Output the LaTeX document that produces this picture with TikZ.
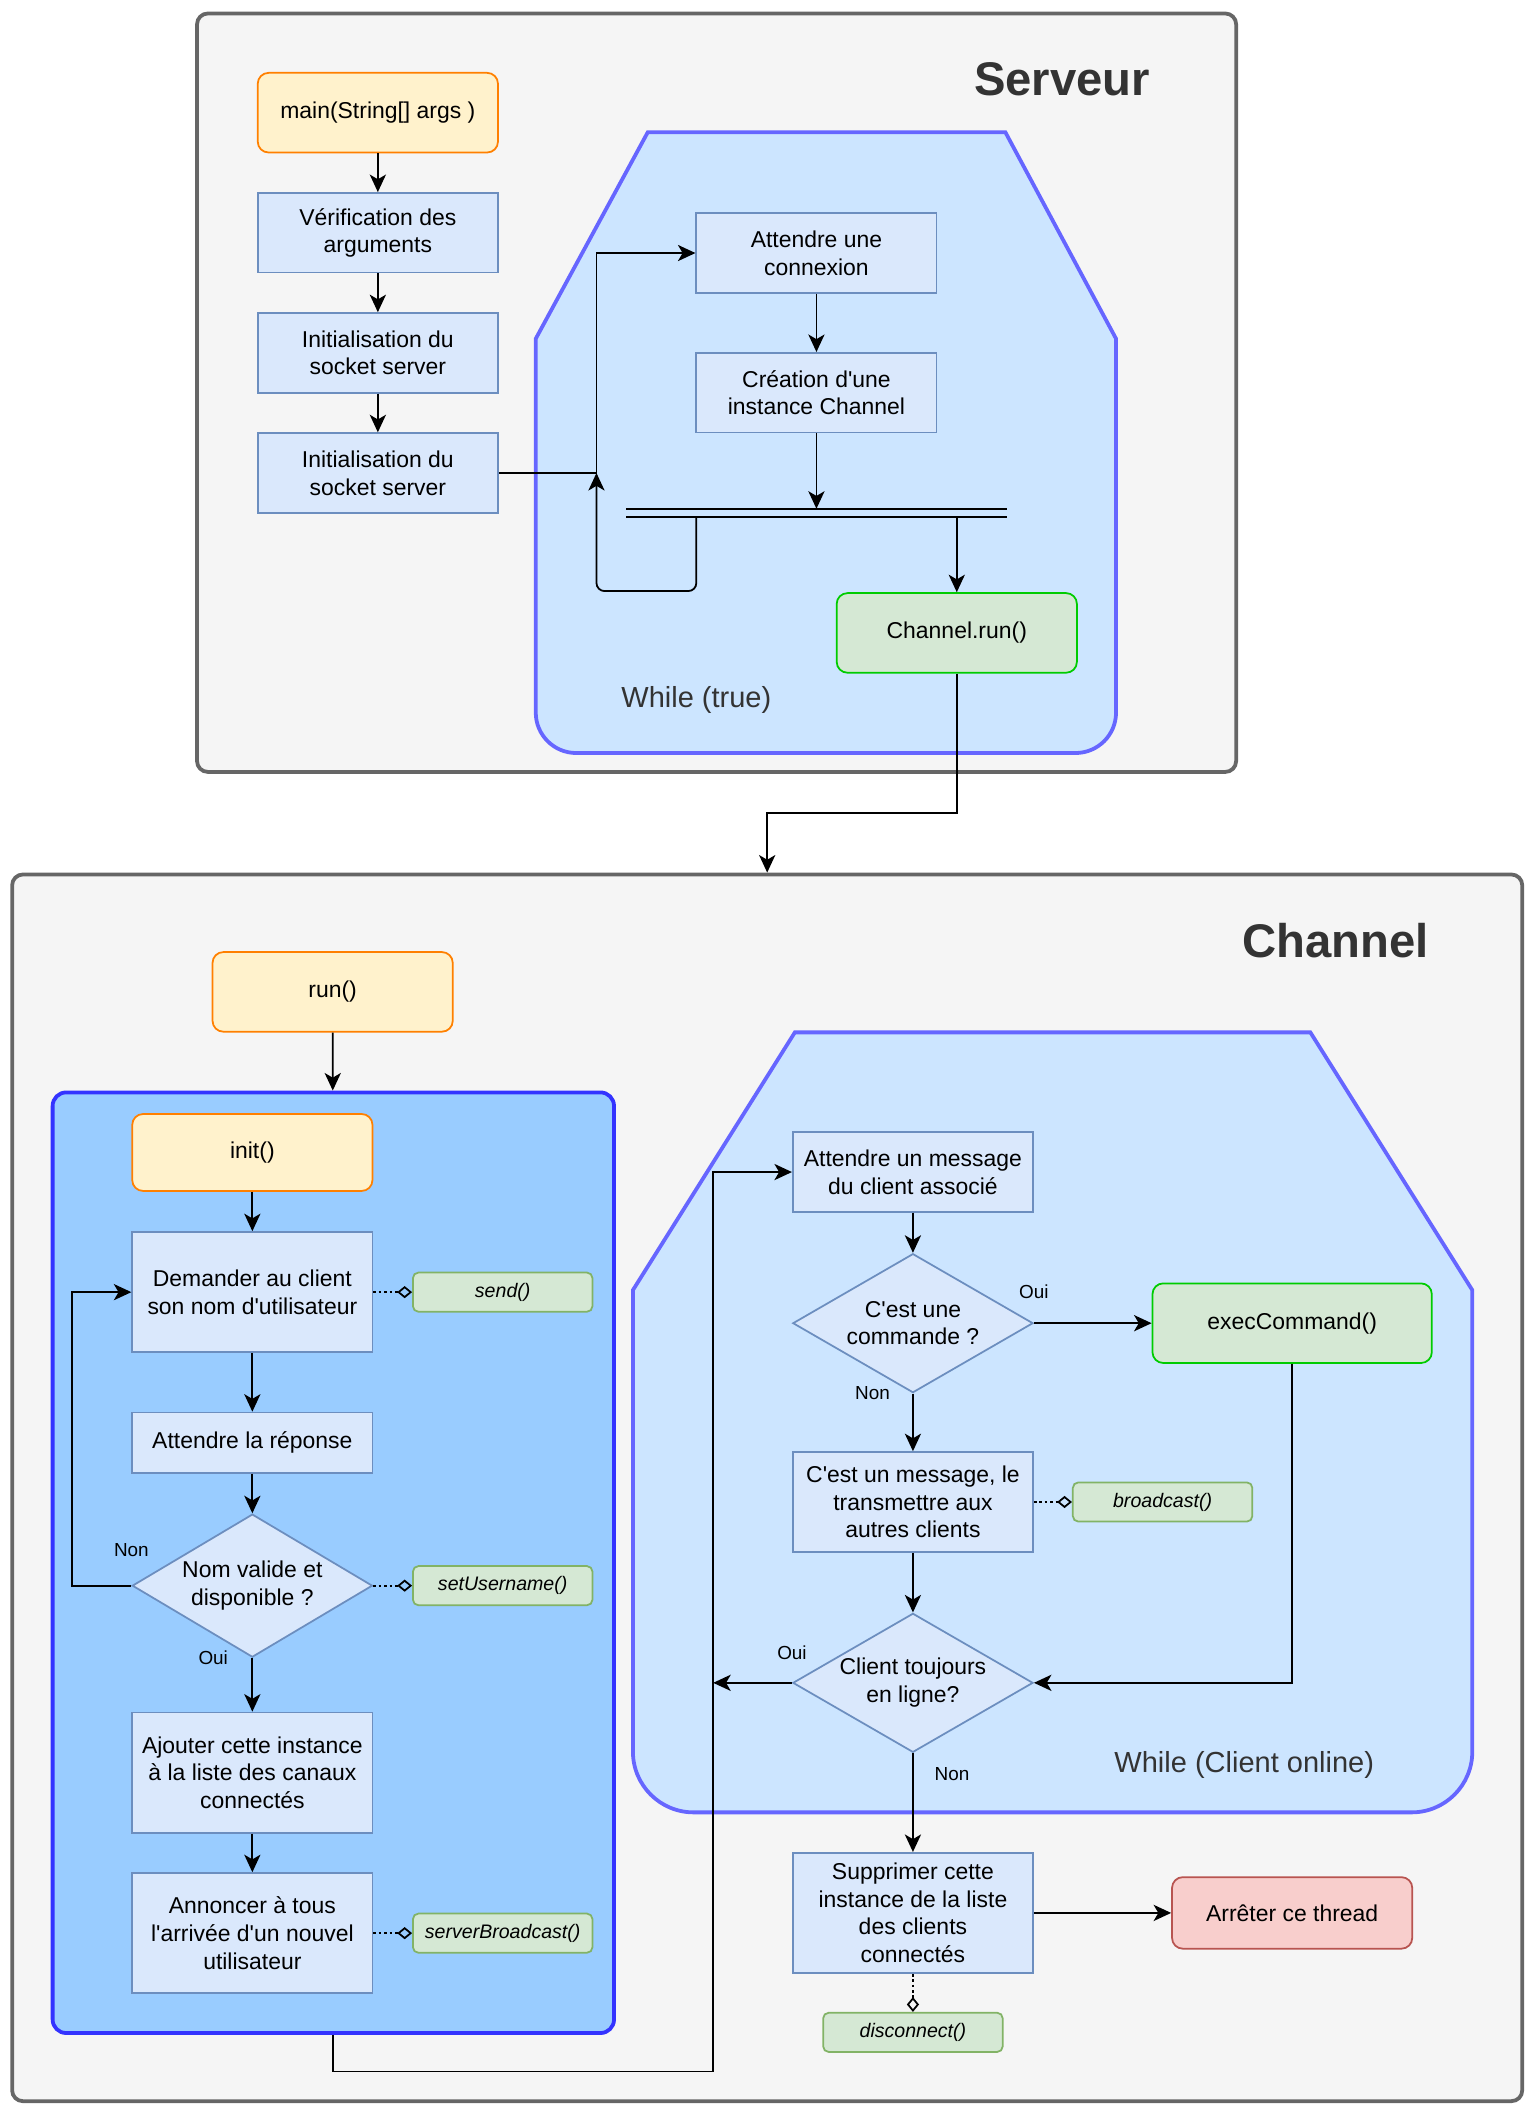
\documentclass[tikz,border=0pt]{standalone}
\usepackage{fontspec}
\setmainfont{Liberation Sans}
\usetikzlibrary{arrows.meta,shapes.geometric}

\definecolor{boxbg}{HTML}{F5F5F5}
\definecolor{boxline}{HTML}{666666}
\definecolor{titlegray}{HTML}{333333}
\definecolor{procfill}{HTML}{DAE8FC}
\definecolor{procline}{HTML}{6C8EBF}
\definecolor{startfill}{HTML}{FFF2CC}
\definecolor{startline}{HTML}{FF8000}
\definecolor{callfill}{HTML}{D5E8D4}
\definecolor{callline}{HTML}{82B366}
\definecolor{runline}{HTML}{00CC00}
\definecolor{stopfill}{HTML}{F8CECC}
\definecolor{stopline}{HTML}{B85450}
\definecolor{loopfill}{HTML}{CCE5FF}
\definecolor{loopline}{HTML}{6666FF}
\definecolor{initfill}{HTML}{99CCFF}
\definecolor{initline}{HTML}{3333FF}

\newcommand{\q}{\textquotesingle}

\begin{document}
\begin{tikzpicture}[x=1pt, y=-1pt,
    font=\fontsize{17}{20.5}\selectfont,
    container/.style={draw=boxline, fill=boxbg, line width=2.8pt, rounded corners=8pt, inner sep=0pt},
    title/.style={font=\fontsize{35}{40}\selectfont\bfseries, text=titlegray},
    looplabel/.style={font=\fontsize{21.5}{26}\selectfont, text=titlegray},
    whileshape/.style={draw=loopline, fill=loopfill, line width=2.8pt},
    proc/.style={draw=procline, fill=procfill, line width=1.3pt, minimum width=178pt, minimum height=59pt, align=center, inner sep=1pt},
    start/.style={proc, draw=startline, fill=startfill, rounded corners=8pt},
    runbox/.style={proc, draw=runline, fill=callfill, rounded corners=8pt},
    stopbox/.style={proc, draw=stopline, fill=stopfill, rounded corners=8pt, minimum height=53pt},
    call/.style={draw=callline, fill=callfill, line width=1.3pt, rounded corners=4pt, minimum width=133pt, minimum height=29pt, inner sep=0pt, font=\fontsize{14.5}{17}\selectfont\itshape},
    test/.style={diamond, draw=procline, fill=procfill, line width=1.3pt, aspect=1.7, inner xsep=-25pt, inner ysep=-15pt, minimum width=178pt, minimum height=103pt, align=center},
    lbl/.style={font=\fontsize{14}{17}\selectfont, inner sep=0pt},
    conn/.style={line width=1.3pt},
    flow/.style={conn, -{Stealth[length=13pt, width=12pt, inset=3.5pt]}},
    uses/.style={conn, dash pattern=on 2pt off 2pt, -{Diamond[open, length=11pt, width=9pt]}},
  ]
  \useasboundingbox (0,0) rectangle (1138,1568);

  % outer boxes
  \node[container, minimum width=770pt, minimum height=562pt] (serveur) at (531,291) {};
  \node[container, minimum width=1119pt, minimum height=909pt] (channel) at (568.5,1102.5) {};
  \node[title] (serveurtitle) at (787,59) {Serveur};
  \node[title] (channeltitle) at (989.5,697) {Channel};

  % Serveur
  \draw[whileshape] (480,98) -- (745,98) -- (827,251) -- (827,400) [rounded corners=30pt] -- (827,558) -- (397,558) -- (397,400) [sharp corners] -- (397,251) -- cycle;
  \node[looplabel] (whiletrue) at (516,519) {While (true)};

  \node[start] (main) at (280,83.5) {main(String[] args )};
  \node[proc] (verif) at (280,172.5) {Vérification des\\arguments};
  \node[proc] (sock1) at (280,261.5) {Initialisation du\\socket server};
  \node[proc] (sock2) at (280,350.5) {Initialisation du\\socket server};
  \node[proc] (wait) at (605,187.5) {Attendre une\\connexion};
  \node[proc] (create) at (605,291) {Création d\q une\\instance Channel};
  \node[runbox] (chrun) at (709,469) {Channel.run()};

  \draw[conn] (464,377) -- (746,377) (464,383) -- (746,383);
  \coordinate (barin) at (605,377);
  \coordinate (barback) at (516,383);
  \coordinate (barout) at (709,383);
  \coordinate (join) at (442,350.5);

  \draw[flow] (main) -- (verif);
  \draw[flow] (verif) -- (sock1);
  \draw[flow] (sock1) -- (sock2);
  \draw[flow] (sock2) -- (join) |- (wait);
  \draw[flow] (wait) -- (create);
  \draw[flow] (create) -- (barin);
  \draw[flow, rounded corners=6pt] (barback) -- (516,438) -- (442,438) -- (join);
  \draw[flow] (barout) -- (chrun);
  \draw[flow] (chrun.south) -- ++(0,103.5) -| (channel.north);

  % Channel, init
  \node[start] (run) at (246.5,735) {run()};
  \node[draw=initline, fill=initfill, line width=2.8pt, rounded corners=10pt, minimum width=416pt, minimum height=697pt] (initblock) at (247,1158) {};
  \node[start, minimum height=57pt] (init) at (187,854) {init()};
  \node[proc, minimum height=89pt] (askname) at (187,957.5) {Demander au client\\son nom d\q utilisateur};
  \node[proc, minimum height=44.5pt] (waitname) at (187,1069) {Attendre la réponse};
  \node[test, minimum height=106pt] (valid) at (187,1175) {Nom valide et\\disponible ?};
  \node[proc, minimum height=89pt] (addlist) at (187,1313.5) {Ajouter cette instance\\à la liste des canaux\\connectés};
  \node[proc, minimum height=89pt] (announce) at (187,1432.5) {Annoncer à tous\\l\q arrivée d\q un nouvel\\utilisateur};
  \node[call] (send) at (372.5,957.5) {send()};
  \node[call] (setname) at (372.5,1175) {setUsername()};
  \node[call] (srvcast) at (372.5,1432.5) {serverBroadcast()};

  \draw[flow] (run) -- (initblock);
  \draw[flow] (init) -- (askname);
  \draw[flow] (askname) -- (waitname);
  \draw[flow] (waitname) -- (valid);
  \draw[flow] (valid.west) -- node[lbl, at start, yshift=26pt] {Non} ++(-44,0) |- (askname.west);
  \draw[flow] (valid) -- node[lbl, at start, xshift=-29pt] {Oui} (addlist);
  \draw[flow] (addlist) -- (announce);
  \draw[uses] (askname) -- (send);
  \draw[uses] (valid) -- (setname);
  \draw[uses] (announce) -- (srvcast);

  % Channel, while
  \draw[whileshape] (589,765) -- (971,765) -- (1091,956) -- (1091,1150) [rounded corners=45pt] -- (1091,1343) -- (469,1343) -- (469,1150) [sharp corners] -- (469,956) -- cycle;
  \node[looplabel] (whileonline) at (922,1308) {While (Client online)};

  \node[proc] (waitmsg) at (676.5,868.5) {Attendre un message\\du client associé};
  \node[test] (iscmd) at (676.5,980.5) {C\q est une\\commande ?};
  \node[runbox, minimum width=207pt] (exec) at (957.5,980.5) {execCommand()};
  \node[proc, minimum height=74pt] (relay) at (676.5,1113) {C\q est un message, le\\transmettre aux\\autres clients};
  \node[call] (bcast) at (861.5,1113) {broadcast()};
  \node[test] (online) at (676.5,1247) {Client toujours\\en ligne?};
  \node[proc, minimum height=89pt] (remove) at (676.5,1417.5) {Supprimer cette\\instance de la liste\\des clients\\connectés};
  \node[stopbox] (stop) at (957.5,1417.5) {Arrêter ce thread};
  \node[call] (disc) at (676.5,1506) {disconnect()};

  \coordinate (backbottom) at (528.5,1535);
  \coordinate (backright) at (528.5,1247);
  \draw[flow] (initblock) |- (backbottom) |- (waitmsg);
  \draw[flow] (waitmsg) -- (iscmd);
  \draw[flow] (iscmd) -- node[lbl, at start, yshift=23pt] {Oui} (exec);
  \draw[flow] (iscmd) -- node[lbl, at start, xshift=-30pt] {Non} (relay);
  \draw[uses] (relay) -- (bcast);
  \draw[flow] (relay) -- (online);
  \draw[flow] (exec) |- (online);
  \draw[flow] (online) -- node[lbl, at start, yshift=22pt] {Oui} (backright);
  \draw[flow] (online) -- node[lbl, pos=0.21, xshift=29pt] {Non} (remove);
  \draw[flow] (remove) -- (stop);
  \draw[uses] (remove) -- (disc);
\end{tikzpicture}
\end{document}
